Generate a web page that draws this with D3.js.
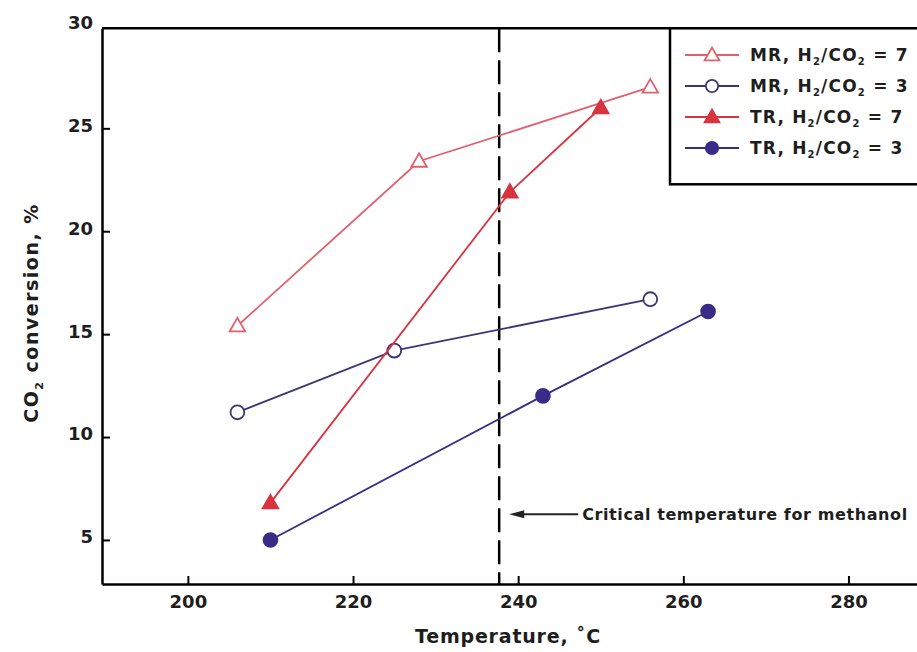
<!DOCTYPE html>
<html>
<head>
<meta charset="utf-8">
<script src="https://cdn.jsdelivr.net/npm/d3@7"></script>
<style>
  body { margin: 0; background: #fff; }
  text { font-family: "DejaVu Sans", sans-serif; fill: #1e1e1e; }
</style>
</head>
<body>
<div id="chart"></div>
<script>
// Chart size
const width = 917;
const height = 652;

// Data (temperature in °C, CO2 conversion in %)
const mr7Temp = [206, 228, 256];
const mr7Conv = [15.4, 23.4, 27.0];
const mr3Temp = [206, 225, 256];
const mr3Conv = [11.2, 14.2, 16.7];
const tr7Temp = [210, 239, 250];
const tr7Conv = [6.8, 21.9, 26.0];
const tr3Temp = [210, 243, 263];
const tr3Conv = [5.0, 12.0, 16.1];

const xTicks = [200, 220, 240, 260, 280];
const yTicks = [5, 10, 15, 20, 25, 30];
const criticalTemp = 237.7;

const legendReactor = ['MR', 'MR', 'TR', 'TR'];
const legendRatio = [7, 3, 7, 3];

// Series styling
const series = [
  { temp: mr7Temp, conv: mr7Conv, color: '#e2606c', marker: 'triangle', filled: false },
  { temp: mr3Temp, conv: mr3Conv, color: '#3b3675', marker: 'circle', filled: false },
  { temp: tr7Temp, conv: tr7Conv, color: '#d8333f', marker: 'triangle', filled: true },
  { temp: tr3Temp, conv: tr3Conv, color: '#3a2c86', marker: 'circle', filled: true }
];

const svg = d3
  .select('#chart')
  .append('svg')
  .attr('width', width)
  .attr('height', height);

// Scales
const x = d3.scaleLinear().domain([189.6, 288.3]).range([102, 917]);
const y = d3.scaleLinear().domain([2.86, 29.86]).range([584, 28.3]);

// Axes
const xAxis = svg
  .append('g')
  .attr('transform', `translate(0,${y.range()[0]})`)
  .call(
    d3.axisBottom(x).tickValues(xTicks).tickSizeInner(-8).tickSizeOuter(0).tickPadding(11)
  );

const yAxis = svg
  .append('g')
  .attr('transform', `translate(${x.range()[0]},0)`)
  .call(
    d3.axisLeft(y).tickValues(yTicks).tickSizeInner(-8).tickSizeOuter(0).tickPadding(9)
  );

[xAxis, yAxis].forEach((g) => {
  g.select('.domain').attr('stroke', '#000').attr('stroke-width', 2.5);
  g.selectAll('.tick line').attr('stroke', '#000').attr('stroke-width', 2);
  g.selectAll('.tick text')
    .attr('fill', '#1e1e1e')
    .style('font-size', '18px')
    .style('font-weight', 'bold')
    .style('font-family', '"DejaVu Sans", sans-serif');
});
yAxis.selectAll('.tick text').attr('dy', '0.16em');
// no tick mark for 30, it sits above the frame
yAxis.selectAll('.tick').filter((d) => d === 30).select('line').remove();

// Top frame line
svg
  .append('line')
  .attr('x1', x.range()[0])
  .attr('x2', x.range()[1])
  .attr('y1', y.range()[1])
  .attr('y2', y.range()[1])
  .attr('stroke', '#000')
  .attr('stroke-width', 2.5);

// Critical temperature dashed line
svg
  .append('line')
  .attr('x1', x(criticalTemp))
  .attr('x2', x(criticalTemp))
  .attr('y1', y.range()[1])
  .attr('y2', y.range()[0])
  .attr('stroke', '#000')
  .attr('stroke-width', 2.5)
  .attr('stroke-dasharray', '24 8');

// Annotation arrow + text
const annY = y(6.25);
const annX = x(criticalTemp);
svg
  .append('line')
  .attr('x1', annX + 18)
  .attr('x2', annX + 79)
  .attr('y1', annY)
  .attr('y2', annY)
  .attr('stroke', '#222')
  .attr('stroke-width', 1.8);
svg
  .append('path')
  .attr('d', `M${annX + 10},${annY} L${annX + 25},${annY - 4} L${annX + 25},${annY + 4} Z`)
  .attr('fill', '#222');
svg
  .append('text')
  .attr('x', annX + 83)
  .attr('y', annY + 6)
  .style('font-size', '16px')
  .style('font-weight', 'bold')
  .style('letter-spacing', '0.6px')
  .text('Critical temperature for methanol');

// Lines and markers
const line = d3
  .line()
  .x((d) => x(d[0]))
  .y((d) => y(d[1]));

function markerPath(type, size) {
  const sym = type === 'triangle' ? d3.symbolTriangle : d3.symbolCircle;
  return d3.symbol().type(sym).size(size)();
}

series.forEach((s) => {
  const pts = s.temp.map((t, i) => [t, s.conv[i]]);
  svg
    .append('path')
    .datum(pts)
    .attr('d', line)
    .attr('fill', 'none')
    .attr('stroke', s.color)
    .attr('stroke-width', 1.8);

  svg
    .selectAll(null)
    .data(pts)
    .enter()
    .append('path')
    .attr('transform', (d) => `translate(${x(d[0])},${y(d[1]) + (s.marker === 'triangle' ? 1 : 0)})`)
    .attr('d', markerPath(s.marker, s.marker === 'triangle' ? 105 : 150))
    .attr('fill', s.filled ? s.color : '#fff')
    .attr('stroke', s.color)
    .attr('stroke-width', 1.8);
});

// Legend
const legend = svg.append('g');
legend
  .append('rect')
  .attr('x', 670)
  .attr('y', y.range()[1])
  .attr('width', 300)
  .attr('height', 156)
  .attr('fill', '#fff')
  .attr('stroke', '#000')
  .attr('stroke-width', 2.5);

series.forEach((s, i) => {
  const ly = 55 + i * 31;
  const row = legend.append('g').attr('transform', `translate(0,${ly})`);
  row
    .append('line')
    .attr('x1', 685)
    .attr('x2', 739)
    .attr('stroke', s.color)
    .attr('stroke-width', 1.8);
  row
    .append('path')
    .attr('transform', `translate(712,${s.marker === 'triangle' ? 1 : 0})`)
    .attr('d', markerPath(s.marker, s.marker === 'triangle' ? 95 : 120))
    .attr('fill', s.filled ? s.color : '#fff')
    .attr('stroke', s.color)
    .attr('stroke-width', 1.8);

  const t = row
    .append('text')
    .attr('x', 750)
    .attr('y', 6)
    .style('font-size', '17px')
    .style('font-weight', 'bold')
    .style('letter-spacing', '1.2px');
  t.append('tspan').text(`${legendReactor[i]}, H`);
  t.append('tspan').attr('dy', 4).style('font-size', '10px').text('2');
  t.append('tspan').attr('dy', -4).text('/CO');
  t.append('tspan').attr('dy', 4).style('font-size', '10px').text('2');
  t.append('tspan').attr('dy', -4).text(` = ${legendRatio[i]}`);
});

// Axis titles
svg
  .append('text')
  .attr('x', 508)
  .attr('y', 643)
  .attr('text-anchor', 'middle')
  .style('font-size', '19px')
  .style('font-weight', 'bold')
  .style('letter-spacing', '0.8px')
  .text('Temperature, ˚C');

const yTitle = svg
  .append('text')
  .attr('transform', 'translate(38,313) rotate(-90)')
  .attr('text-anchor', 'middle')
  .style('font-size', '19px')
  .style('font-weight', 'bold')
  .style('letter-spacing', '1.5px');
yTitle.append('tspan').text('CO');
yTitle.append('tspan').attr('dy', 5).style('font-size', '11px').text('2');
yTitle.append('tspan').attr('dy', -5).text(' conversion, %');
</script>
</body>
</html>
